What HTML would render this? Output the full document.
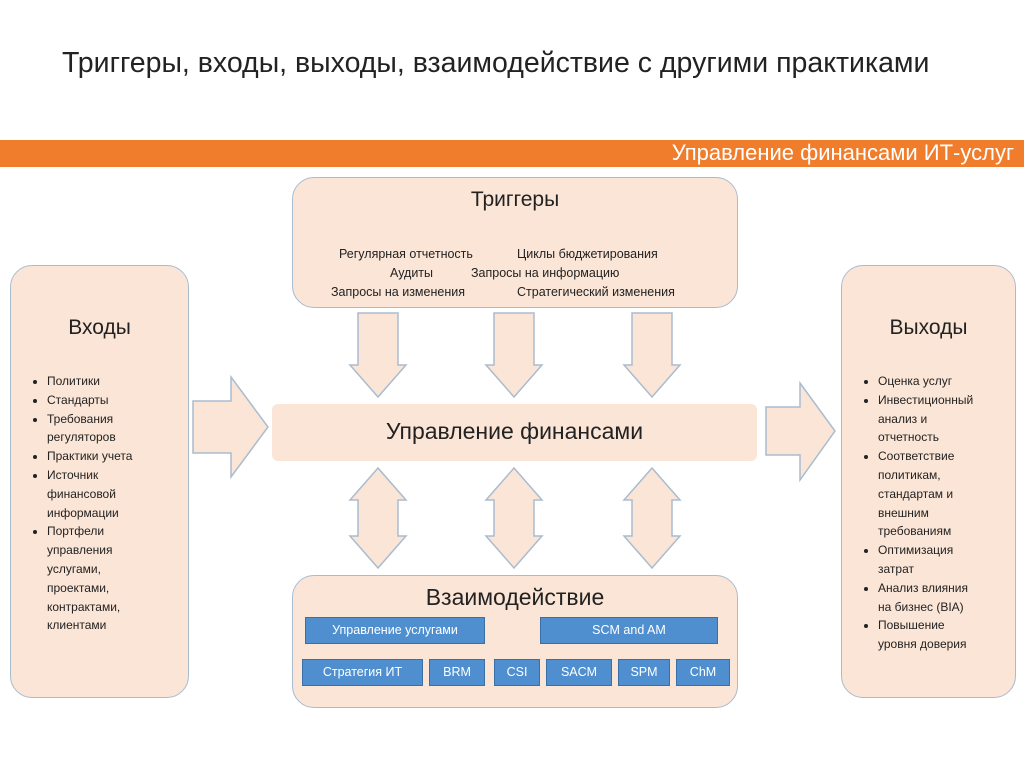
<!DOCTYPE html>
<html><head><meta charset="utf-8"><style>
body{margin:0;width:1024px;height:767px;background:#fff;position:relative;overflow:hidden;font-family:"Liberation Sans","Noto Sans CJK SC",sans-serif;}
.a{position:absolute}
.box{position:absolute;background:#fbe5d6;border:1.5px solid #a9bccf;border-radius:22px;box-sizing:border-box}
.h{position:absolute;width:100%;text-align:center;color:#222;font-size:21px}
ul{position:absolute;margin:0;padding:0 0 0 16px;font-size:12px;line-height:18.8px;color:#222}
.b{position:absolute;background:#4f8fcf;border:1px solid #3a70a8;color:#fff;font-size:12.5px;text-align:center;line-height:25px;height:27px;box-sizing:border-box}
.t{font-size:12.5px;color:#222;position:absolute;white-space:nowrap}
</style></head><body>
<div class="a" style="left:62px;top:47px;font-size:28.5px;color:#222">Триггеры, входы, выходы, взаимодействие с другими практиками</div>
<div class="a" style="left:0;top:140px;width:1024px;height:27px;background:#f07d2b"></div>
<div class="a" style="right:10px;top:140px;font-size:22px;color:#fff">Управление финансами ИТ-услуг</div>

<div class="box" style="left:292px;top:177px;width:446px;height:131px">
<div class="h" style="top:10px">Триггеры</div>
<div class="t" style="left:46px;top:69px">Регулярная отчетность</div>
<div class="t" style="left:224px;top:69px">Циклы бюджетирования</div>
<div class="t" style="left:97px;top:88px">Аудиты</div>
<div class="t" style="left:178px;top:88px">Запросы на информацию</div>
<div class="t" style="left:38px;top:107px">Запросы на изменения</div>
<div class="t" style="left:224px;top:107px">Стратегический изменения</div>
</div>

<div class="box" style="left:10px;top:265px;width:179px;height:433px">
<div class="h" style="top:50px">Входы</div>
<ul style="left:20px;top:106px;width:100px">
<li>Политики</li><li>Стандарты</li><li>Требования регуляторов</li><li>Практики учета</li><li>Источник финансовой информации</li><li>Портфели управления услугами, проектами, контрактами, клиентами</li></ul>
</div>

<div class="box" style="left:841px;top:265px;width:175px;height:433px">
<div class="h" style="top:50px">Выходы</div>
<ul style="left:20px;top:106px;width:106px">
<li>Оценка услуг</li><li>Инвестиционный анализ и отчетность</li><li>Соответствие политикам, стандартам и внешним требованиям</li><li>Оптимизация затрат</li><li>Анализ влияния на бизнес (BIA)</li><li>Повышение уровня доверия</li></ul>
</div>

<div class="a" style="left:272px;top:404px;width:485px;height:57px;background:#fbe5d6;border-radius:6px"></div>
<div class="a" style="left:272px;top:418px;width:485px;text-align:center;font-size:23px;color:#222">Управление финансами</div>

<svg class="a" style="left:0;top:0" width="1024" height="767">
<g fill="#fbe5d6" stroke="#a9bccf" stroke-width="1.5">
<polygon points="358,313 398,313 398,365 406,365 378,397 350,365 358,365"/>
<polygon points="494,313 534,313 534,365 542,365 514,397 486,365 494,365"/>
<polygon points="632,313 672,313 672,365 680,365 652,397 624,365 632,365"/>
<polygon points="378,468 406,500 398,500 398,536 406,536 378,568 350,536 358,536 358,500 350,500"/>
<polygon points="514,468 542,500 534,500 534,536 542,536 514,568 486,536 494,536 494,500 486,500"/>
<polygon points="652,468 680,500 672,500 672,536 680,536 652,568 624,536 632,536 632,500 624,500"/>
<polygon points="193,401 231,401 231,377 268,427 231,477 231,453 193,453"/>
<polygon points="766,407 800,407 800,383 835,431 800,480 800,455 766,455"/>
</g></svg>

<div class="box" style="left:292px;top:575px;width:446px;height:133px">
<div class="h" style="top:8px;font-size:23px">Взаимодействие</div>
</div>
<div class="b" style="left:305px;top:617px;width:180px">Управление услугами</div>
<div class="b" style="left:540px;top:617px;width:178px">SCM and AM</div>
<div class="b" style="left:302px;top:659px;width:121px">Стратегия ИТ</div>
<div class="b" style="left:429px;top:659px;width:56px">BRM</div>
<div class="b" style="left:494px;top:659px;width:46px">CSI</div>
<div class="b" style="left:546px;top:659px;width:66px">SACM</div>
<div class="b" style="left:618px;top:659px;width:52px">SPM</div>
<div class="b" style="left:676px;top:659px;width:54px">ChM</div>
</body></html>
